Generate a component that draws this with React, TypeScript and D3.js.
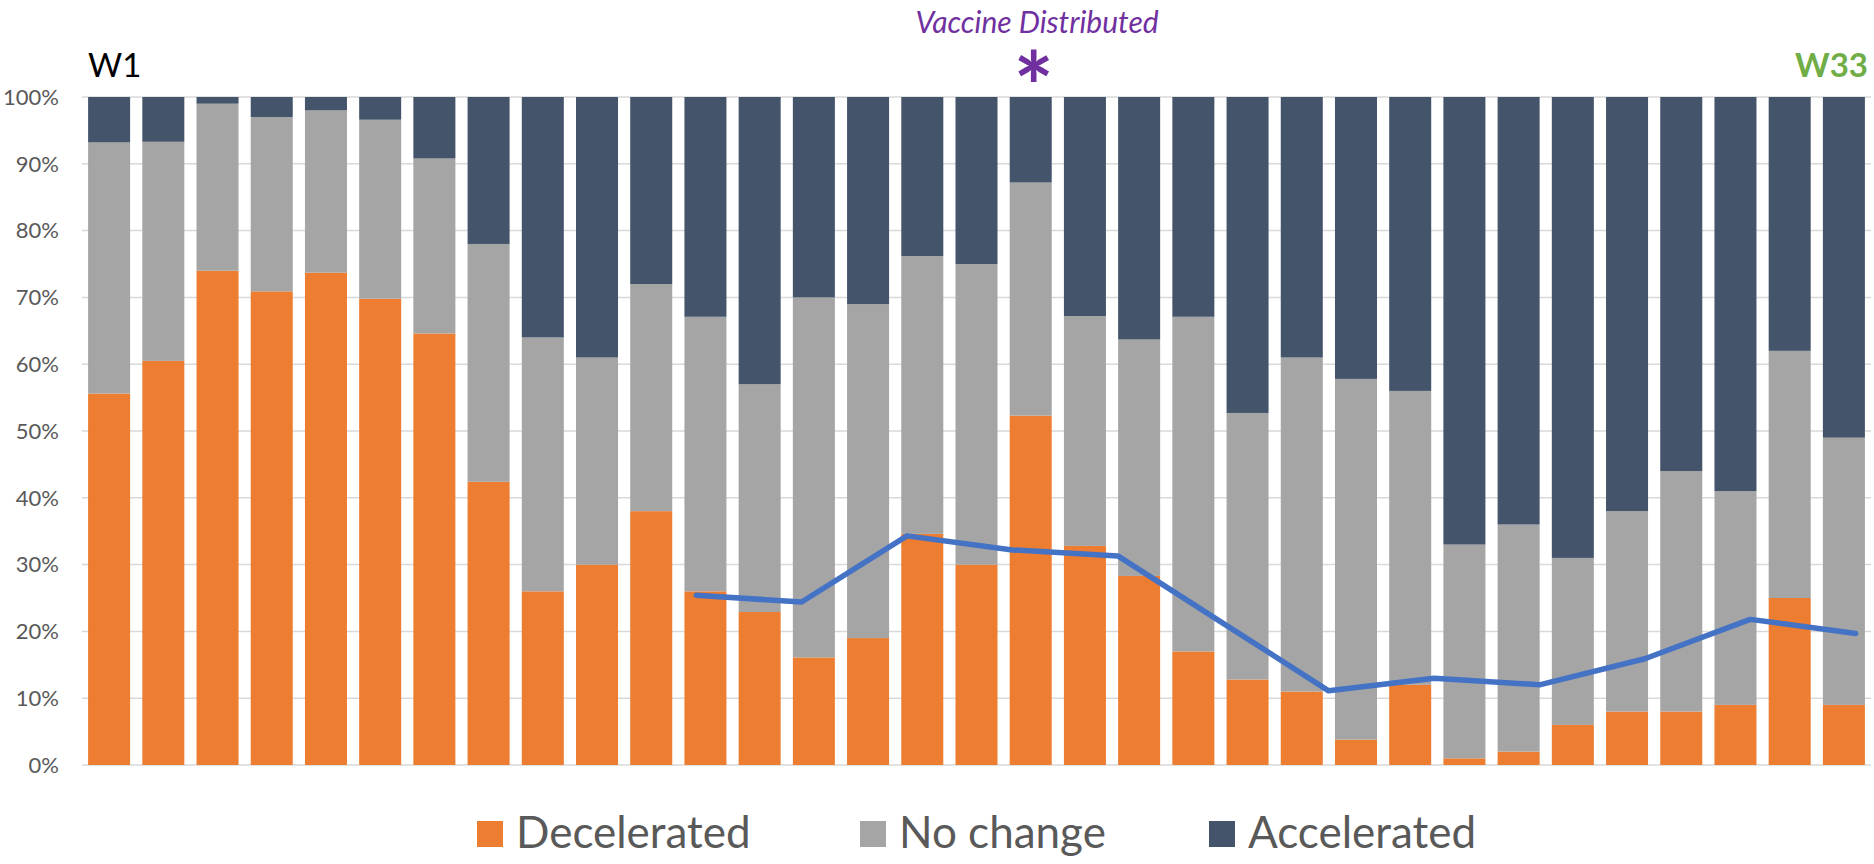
import React, { useEffect } from "react";
import * as d3 from "d3";

const weeks = d3.range(1, 34).map((w) => `W${w}`);
const decelerated = [55.6, 60.5, 74.0, 70.9, 73.7, 69.8, 64.6, 42.4, 26.0, 30.0, 38.0, 26.0, 22.9, 16.1, 19.0, 34.6, 30.0, 52.3, 32.8, 28.3, 17.0, 12.8, 11.0, 3.8, 12.0, 1.0, 2.0, 6.0, 8.0, 8.0, 9.0, 25.0, 9.0];
const noChange = [37.6, 32.8, 25.0, 26.1, 24.3, 26.8, 26.2, 35.6, 38.0, 31.0, 34.0, 41.1, 34.1, 53.9, 50.0, 41.6, 45.0, 34.9, 34.4, 35.4, 50.1, 39.9, 50.0, 54.0, 44.0, 32.0, 34.0, 25.0, 30.0, 36.0, 32.0, 37.0, 40.0];
const accelerated = [6.8, 6.7, 1.0, 3.0, 2.0, 3.4, 9.2, 22.0, 36.0, 39.0, 28.0, 32.9, 43.0, 30.0, 31.0, 23.8, 25.0, 12.8, 32.8, 36.3, 32.9, 47.3, 39.0, 42.2, 44.0, 67.0, 64.0, 69.0, 62.0, 56.0, 59.0, 38.0, 51.0];
const trendValues = [25.4, 24.4, 34.3, 32.2, 31.3, 21.2, 11.1, 13.0, 12.0, 15.9, 21.8, 19.7];
const yTicks = [0, 10, 20, 30, 40, 50, 60, 70, 80, 90, 100];
const seriesNames = ["Decelerated", "No change", "Accelerated"];
const seriesColors = ["#ED7D31", "#A5A5A5", "#44546A"];

const W = 1874;
const H = 864;
const FONT = "Lato, 'Open Sans', sans-serif";

export default function App() {
  useEffect(() => {
    document.body.style.margin = "0";
  }, []);

  const left = 82;
  const right = 1871;
  const top = 97;
  const bottom = 765;

  const x = d3.scaleBand<string>().domain(weeks).range([left, right]).paddingInner(0.225).paddingOuter(0.1125);
  const y = d3.scaleLinear().domain([0, 100]).range([bottom, top]);
  const bw = x.bandwidth();

  const rows = weeks.map((w, i) => ({ week: w, Decelerated: decelerated[i], "No change": noChange[i], Accelerated: accelerated[i] }));
  const stack = d3.stack<any>().keys(seriesNames);
  const stacked = stack(rows);

  const lx = d3
    .scaleLinear()
    .domain([0, trendValues.length - 1])
    .range([(x(weeks[11]) as number) + bw * 0.28, (x(weeks[32]) as number) + bw * 0.78]);
  const line = d3
    .line<number>()
    .x((_, i) => lx(i))
    .y((d) => y(d));

  const legendItems = [
    { name: seriesNames[0], color: seriesColors[0], x: 477 },
    { name: seriesNames[1], color: seriesColors[1], x: 860 },
    { name: seriesNames[2], color: seriesColors[2], x: 1209 },
  ];

  const starX = (x(weeks[17]) as number) + bw / 2 + 3;

  return (
    <svg width={W} height={H} style={{ position: "absolute", left: 0, top: 0, background: "#fff" }} fontFamily={FONT}>
      {yTicks.map((t) => (
        <g key={t}>
          <line x1={left} x2={right} y1={y(t)} y2={y(t)} stroke="#D9D9D9" strokeWidth={1.5} />
          <text x={59} y={y(t)} dy="0.35em" textAnchor="end" fontSize={22} fill="#595959">
            {t}%
          </text>
        </g>
      ))}
      {stacked.map((s, si) => (
        <g key={s.key} fill={seriesColors[si]}>
          {s.map((d, i) => (
            <rect key={i} x={x(weeks[i])} y={y(d[1])} width={bw} height={y(d[0]) - y(d[1])} />
          ))}
        </g>
      ))}
      <path d={line(trendValues) || ""} fill="none" stroke="#4472C4" strokeWidth={5.5} strokeLinecap="round" strokeLinejoin="round" />
      <text x={88} y={77} fontSize={33} fill="#000">
        W1
      </text>
      <text x={1868} y={77} fontSize={33} fontWeight="bold" fill="#70AD47" textAnchor="end">
        W33
      </text>
      <text x={1037} y={33} fontSize={30} fontStyle="italic" fill="#7030A0" textAnchor="middle">
        Vaccine Distributed
      </text>
      <text x={starX} y={122} fontSize={95} fontWeight="bold" fill="#7030A0" textAnchor="middle">
        *
      </text>
      {legendItems.map((l) => (
        <g key={l.name}>
          <rect x={l.x} y={821} width={26} height={26} fill={l.color} />
          <text x={l.x + 39} y={848} fontSize={44} fill="#595959">
            {l.name}
          </text>
        </g>
      ))}
    </svg>
  );
}
